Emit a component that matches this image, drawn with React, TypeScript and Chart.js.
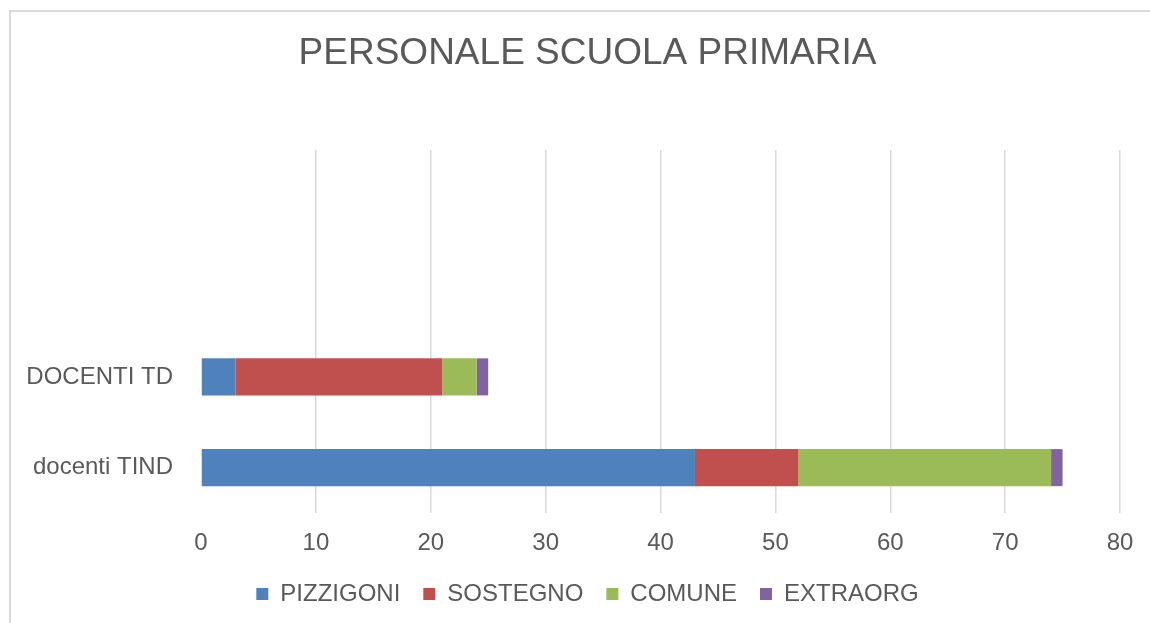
import React, { useEffect, useRef } from "react";
import { Chart, registerables } from "chart.js";

Chart.register(...registerables);

const categories = ["docenti TIND", "DOCENTI TD", "", ""];
const pizzigoni = [43, 3, null, null];
const sostegno = [9, 18, null, null];
const comune = [22, 3, null, null];
const extraorg = [1, 1, null, null];
const xTickMax = 80;
const xTickStep = 10;

const FONT = "'Liberation Sans', Arial, sans-serif";
const TEXT = "#595959";
const GRID = "#d9d9d9";
const SHIFT = 15;

const borderPlugin = {
  id: "frameBorder",
  beforeDraw(chart: any) {
    const ctx = chart.ctx;
    ctx.save();
    ctx.fillStyle = "#ffffff";
    ctx.fillRect(0, 0, chart.width, chart.height);
    ctx.strokeStyle = GRID;
    ctx.lineWidth = 2;
    ctx.beginPath();
    ctx.moveTo(10, chart.height + 2);
    ctx.lineTo(10, 11);
    ctx.lineTo(chart.width + 2, 11);
    ctx.stroke();
    ctx.restore();
  },
};

const centerShiftPlugin = {
  id: "centerShift",
  afterUpdate(chart: any) {
    const t = chart.titleBlock;
    if (t) {
      t.left += SHIFT;
      t.right += SHIFT;
    }
    const l = chart.legend;
    if (l) {
      l.left += SHIFT;
      l.right += SHIFT;
      l.top += 1;
      l.bottom += 1;
      l.adjustHitBoxes();
    }
  },
};

export default function App() {
  const ref = useRef<HTMLCanvasElement | null>(null);
  useEffect(() => {
    document.body.style.margin = "0";
    document.body.style.overflow = "hidden";
    const mk = (label: string, data: (number | null)[], color: string) => ({
      label,
      data,
      backgroundColor: color,
      borderWidth: 0,
      categoryPercentage: 1,
      barPercentage: 0.408,
    });
    const chart = new Chart(ref.current as HTMLCanvasElement, {
      type: "bar",
      data: {
        labels: categories,
        datasets: [
          mk("PIZZIGONI", pizzigoni, "#4f81bd"),
          mk("SOSTEGNO", sostegno, "#c0504d"),
          mk("COMUNE", comune, "#9bbb59"),
          mk("EXTRAORG", extraorg, "#8064a2"),
        ],
      },
      options: {
        indexAxis: "y",
        responsive: false,
        animation: false,
        layout: { padding: { left: 25, right: 30, top: 0, bottom: 8 } },
        plugins: {
          title: {
            display: true,
            text: "PERSONALE SCUOLA PRIMARIA",
            color: TEXT,
            font: { family: FONT, size: 37, weight: "normal", lineHeight: 1.2 },
            padding: { top: 32, bottom: 73.6 },
          },
          legend: {
            position: "bottom",
            labels: {
              color: TEXT,
              font: { family: FONT, size: 24 },
              boxWidth: 12,
              boxHeight: 12,
              padding: 23,
            },
          },
          tooltip: { enabled: false },
        },
        scales: {
          x: {
            stacked: true,
            min: 0,
            max: xTickMax,
            ticks: { stepSize: xTickStep, color: TEXT, font: { family: FONT, size: 24 }, padding: 16 },
            grid: {
              drawTicks: false,
              lineWidth: 1.5,
              color: (c: any) => (c.tick && c.tick.value === 0 ? "rgba(0,0,0,0)" : GRID),
            },
            border: { display: false },
            afterFit: (s: any) => {
              s.height = 45;
            },
          },
          y: {
            stacked: true,
            reverse: true,
            ticks: { color: TEXT, font: { family: FONT, size: 24 }, padding: 28 },
            grid: { display: false, drawTicks: false },
            border: { display: false },
            afterFit: (s: any) => {
              s.width = 176;
            },
          },
        },
      },
      plugins: [borderPlugin, centerShiftPlugin],
    } as any);
    return () => chart.destroy();
  }, []);
  return (
    <div style={{ position: "fixed", left: 0, top: 0, width: 1150, height: 623, background: "#fff" }}>
      <canvas ref={ref} width={1150} height={623} style={{ display: "block" }} />
    </div>
  );
}
